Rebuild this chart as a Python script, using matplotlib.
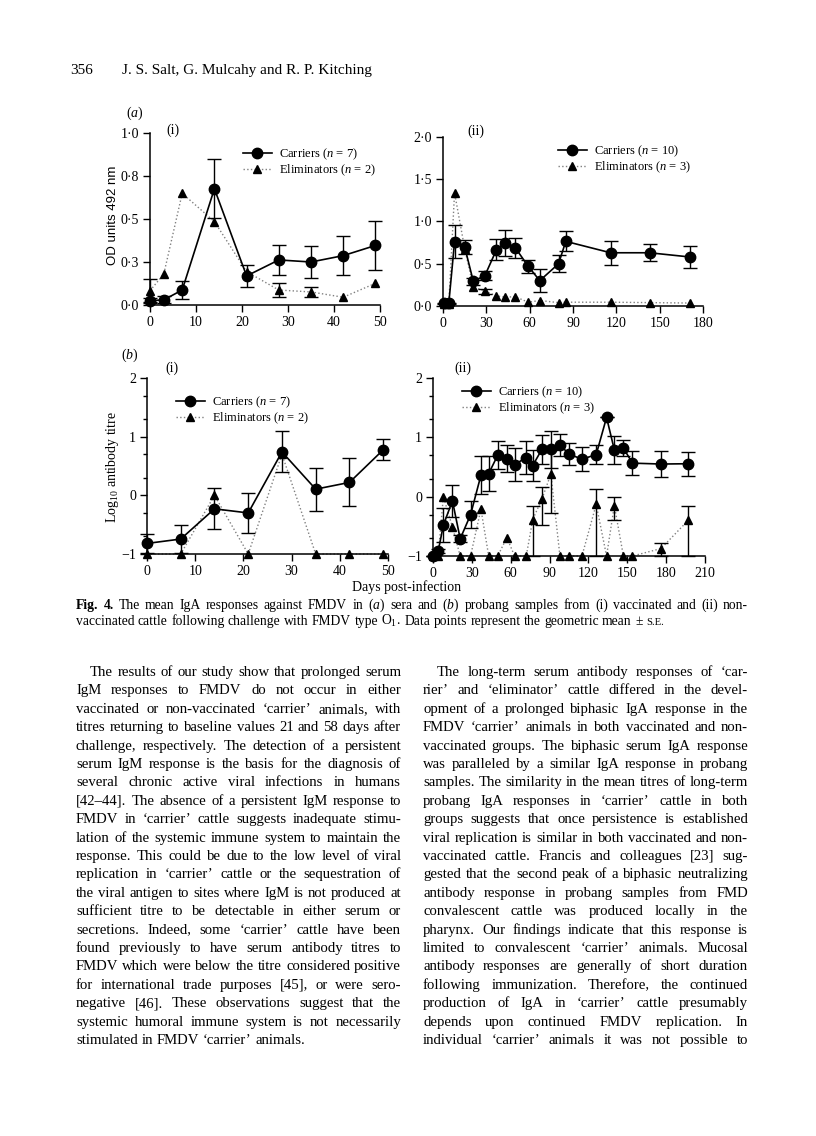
import matplotlib
matplotlib.use("Agg")
import numpy as np
import matplotlib.pyplot as plt
from matplotlib.font_manager import FontProperties
from matplotlib.lines import Line2D

plt.rcParams['font.family'] = ['Liberation Serif', 'DejaVu Serif']
plt.rcParams['mathtext.fontset'] = 'custom'
plt.rcParams['mathtext.rm'] = 'Liberation Serif'
plt.rcParams['mathtext.it'] = 'Liberation Serif:italic'
plt.rcParams['mathtext.bf'] = 'Liberation Serif:bold'

# ---- data ----
# (a)(i) serum IgA, vaccinated
a1_days = [0, 3, 7, 14, 21, 28, 35, 42, 49]
a1_car = [0.025, 0.03, 0.087, 0.676, 0.169, 0.262, 0.25, 0.287, 0.346]
a1_car_se = [0.015, 0.02, 0.05, 0.172, 0.065, 0.089, 0.092, 0.113, 0.145]
a1_elim = [0.083, 0.18, 0.649, 0.485, 0.194, 0.087, 0.076, 0.045, 0.126]
a1_elim_se = [0.067, 0, 0, 0, 0, 0.042, 0.031, 0, 0]

# (a)(ii) serum IgA, non-vaccinated
a2_days = [1, 4, 8, 15, 21, 29, 37, 43, 50, 59, 67, 80, 85, 116, 143, 171]
a2_car = [0.03, 0.03, 0.76, 0.70, 0.29, 0.36, 0.665, 0.745, 0.69, 0.47, 0.30,
          0.50, 0.765, 0.63, 0.63, 0.58]
a2_car_se = [0.01, 0.01, 0.195, 0.085, 0.04, 0.055, 0.125, 0.15, 0.12, 0.08,
             0.14, 0.10, 0.12, 0.14, 0.10, 0.125]
a2_elim = [0.02, 0.02, 1.34, 0.68, 0.225, 0.175, 0.12, 0.105, 0.11, 0.045,
           0.065, 0.04, 0.045, 0.045, 0.04, 0.035]
a2_elim_se = [0, 0, 0, 0, 0, 0.03, 0, 0, 0, 0, 0, 0, 0, 0, 0, 0]

# (b)(i) probang IgA, vaccinated
b1_days = [0, 7, 14, 21, 28, 35, 42, 49]
b1_car = [-0.82, -0.745, -0.23, -0.30, 0.74, 0.105, 0.22, 0.775]
b1_car_se = [0.16, 0.24, 0.35, 0.34, 0.35, 0.365, 0.41, 0.18]
b1_elim = [-1, -1, 0.0, -1, 0.70, -1, -1, -1]

# (b)(ii) probang IgA, non-vaccinated
b2_days = [0, 4, 8, 15, 21, 29, 37, 43, 50, 57, 63, 72, 77, 84, 91, 98, 105,
           115, 126, 134, 140, 147, 154, 176, 197]
b2_car = [-1.0, -0.92, -0.48, -0.07, -0.71, -0.305, 0.36, 0.39, 0.70, 0.64,
          0.54, 0.66, 0.525, 0.795, 0.80, 0.87, 0.72, 0.63, 0.71, 1.335, 0.79,
          0.82, 0.565, 0.55, 0.555]
b2_car_se = [0, 0.03, 0.29, 0.265, 0.06, 0.23, 0.32, 0.29, 0.235, 0.225,
             0.275, 0.28, 0.265, 0.245, 0.31, 0.19, 0.19, 0.205, 0.16, 0,
             0.24, 0.13, 0.205, 0.225, 0.2]
b2_elim = [-1, -1, 0.0, -0.51, -1, -1, -0.21, -1, -1, -0.69, -1, -1, -0.385,
           -0.045, 0.38, -1, -1, -1, -0.13, -1, -0.15, -1, -1, -0.875, -0.4]
b2_elim_lo = [0, 0, 0, 0, 0, 0, 0, 0, 0, 0, 0, 0, 0.615, 0.435, 0.65, 0, 0,
              0, 0.87, 0, 0.24, 0, 0, 0.125, 0.6]
b2_elim_hi = [0, 0, 0, 0, 0, 0, 0, 0, 0, 0, 0, 0, 0.235, 0.215, 0.41, 0, 0,
              0, 0.26, 0, 0.15, 0, 0, 0.095, 0.245]

header_page = "356"
header_authors = "J. S. Salt, G. Mulcahy and R. P. Kitching"

caption_lines = [
    [("Fig.", "bold"), ("4.", "bold"), "The", "mean", "IgA", "responses", "against",
     "FMDV", "in", r"($\it{a}$)", "sera", "and", r"($\it{b}$)", "probang", "samples",
     "from", "(i)", "vaccinated", "and", "(ii)", "non-"],
    ["vaccinated", "cattle", "following", "challenge", "with", "FMDV", "type",
     r"O$_{1}$.", "Data", "points", "represent", "the", "geometric", "mean",
     "\u00b1", ("S.E.", "small")],
]

q1, q2 = "\u2018", "\u2019"
left_col = [
    "The results of our study show that prolonged serum",
    "IgM responses to FMDV do not occur in either",
    f"vaccinated or non-vaccinated {q1}carrier{q2} animals, with",
    "titres returning to baseline values 21 and 58 days after",
    "challenge, respectively. The detection of a persistent",
    "serum IgM response is the basis for the diagnosis of",
    "several chronic active viral infections in humans",
    "[42\u201344]. The absence of a persistent IgM response to",
    f"FMDV in {q1}carrier{q2} cattle suggests inadequate stimu-",
    "lation of the systemic immune system to maintain the",
    "response. This could be due to the low level of viral",
    f"replication in {q1}carrier{q2} cattle or the sequestration of",
    "the viral antigen to sites where IgM is not produced at",
    "sufficient titre to be detectable in either serum or",
    f"secretions. Indeed, some {q1}carrier{q2} cattle have been",
    "found previously to have serum antibody titres to",
    "FMDV which were below the titre considered positive",
    "for international trade purposes [45], or were sero-",
    "negative [46]. These observations suggest that the",
    "systemic humoral immune system is not necessarily",
    f"stimulated in FMDV {q1}carrier{q2} animals.",
]
right_col = [
    f"The long-term serum antibody responses of {q1}car-",
    f"rier{q2} and {q1}eliminator{q2} cattle differed in the devel-",
    "opment of a prolonged biphasic IgA response in the",
    f"FMDV {q1}carrier{q2} animals in both vaccinated and non-",
    "vaccinated groups. The biphasic serum IgA response",
    "was paralleled by a similar IgA response in probang",
    "samples. The similarity in the mean titres of long-term",
    f"probang IgA responses in {q1}carrier{q2} cattle in both",
    "groups suggests that once persistence is established",
    "viral replication is similar in both vaccinated and non-",
    "vaccinated cattle. Francis and colleagues [23] sug-",
    "gested that the second peak of a biphasic neutralizing",
    "antibody response in probang samples from FMD",
    "convalescent cattle was produced locally in the",
    "pharynx. Our findings indicate that this response is",
    f"limited to convalescent {q1}carrier{q2} animals. Mucosal",
    "antibody responses are generally of short duration",
    "following immunization. Therefore, the continued",
    f"production of IgA in {q1}carrier{q2} cattle presumably",
    "depends upon continued FMDV replication. In",
    f"individual {q1}carrier{q2} animals it was not possible to",
]

W, H = 816, 1136
fig = plt.figure(figsize=(W / 100, H / 100), dpi=100)
fig.patch.set_facecolor('white')
renderer = fig.canvas.get_renderer()


def fx(x):
    return x / W


def fy(y):
    return 1 - y / H


def rect(x0, x1, y_top, y_bot):
    return [fx(x0), fy(y_bot), (x1 - x0) / W, (y_bot - y_top) / H]


def draw_panel(box, xlim, xticks, ylim, yticks, yticklabels, days, car, car_se,
               elim, elim_lo, elim_hi, n_car, n_elim, legend_xy, log_minor=False):
    ax = fig.add_axes(box)
    ax.set_xlim(xlim)
    ax.set_ylim(ylim)
    ax.spines['top'].set_visible(False)
    ax.spines['right'].set_visible(False)
    for s in ['left', 'bottom']:
        ax.spines[s].set_linewidth(1.1)
    ax.set_xticks(xticks)
    ax.set_yticks(yticks)
    ax.set_yticklabels(yticklabels)
    ax.tick_params(direction='out', length=5, width=1.0, labelsize=10, pad=3)
    if log_minor:
        minor = []
        for d in range(int(ylim[0]), int(ylim[1])):
            minor += [d + np.log10(2), d + np.log10(5)]
        ax.set_yticks(minor, minor=True)
        ax.tick_params(which='minor', direction='out', length=3, width=1.0)

    # eliminators: dotted grey line with black triangles
    ax.plot(days, elim, ls=':', color='0.5', lw=1.0, zorder=2, clip_on=False)
    idx = [i for i in range(len(days)) if elim_lo[i] > 0 or elim_hi[i] > 0]
    if idx:
        eb = ax.errorbar([days[i] for i in idx], [elim[i] for i in idx],
                         yerr=[[elim_lo[i] for i in idx], [elim_hi[i] for i in idx]],
                         fmt='none', ecolor='black', elinewidth=1.0, capsize=5,
                         capthick=1.0, zorder=3)
        for art in list(eb.lines[1]) + list(eb.lines[2]):
            art.set_clip_on(False)
    ax.plot(days, elim, ls='none', marker='^', ms=6, color='black', zorder=4,
            clip_on=False)

    # carriers: solid line with filled circles
    eb = ax.errorbar(days, car, yerr=car_se, fmt='none', ecolor='black',
                     elinewidth=1.0, capsize=5, capthick=1.0, zorder=3)
    for art in list(eb.lines[1]) + list(eb.lines[2]):
        art.set_clip_on(False)
    ax.plot(days, car, '-', color='black', lw=1.2, marker='o', ms=7.5,
            zorder=5, clip_on=False)

    handles = [Line2D([], [], color='black', lw=1.2, marker='o', ms=7.5),
               Line2D([], [], color='0.5', ls=':', lw=1.0, marker='^', ms=6,
                      mfc='black', mec='black')]
    labels = [r"Carriers ($\it{n}$ = %d)" % n_car,
              r"Eliminators ($\it{n}$ = %d)" % n_elim]
    ax.legend(handles, labels, loc='upper left', frameon=False,
              bbox_to_anchor=(fx(legend_xy[0]), fy(legend_xy[1])),
              bbox_transform=fig.transFigure, borderpad=0, borderaxespad=0,
              handlelength=2.3, handletextpad=0.6, labelspacing=0.0,
              fontsize=9)
    return ax


zeros_b1 = [0] * len(b1_days)

draw_panel(rect(150, 380, 133, 305), (0, 50), [0, 10, 20, 30, 40, 50],
           (0, 1), [0, 0.25, 0.5, 0.75, 1.0],
           ['0\u00b70', '0\u00b73', '0\u00b75', '0\u00b78', '1\u00b70'],
           a1_days, a1_car, a1_car_se, a1_elim, a1_elim_se, a1_elim_se, 7, 2,
           (243, 147))
draw_panel(rect(443, 703, 137, 306), (0, 180), [0, 30, 60, 90, 120, 150, 180],
           (0, 2), [0, 0.5, 1.0, 1.5, 2.0],
           ['0\u00b70', '0\u00b75', '1\u00b70', '1\u00b75', '2\u00b70'],
           a2_days, a2_car, a2_car_se, a2_elim, a2_elim_se, a2_elim_se, 10, 3,
           (558, 144))
draw_panel(rect(147, 388, 378, 554), (0, 50), [0, 10, 20, 30, 40, 50],
           (-1, 2), [-1, 0, 1, 2], ['\u22121', '0', '1', '2'],
           b1_days, b1_car, b1_car_se, b1_elim, zeros_b1, zeros_b1, 7, 2,
           (176, 395), log_minor=True)
draw_panel(rect(433, 705, 378, 556), (0, 210), [0, 30, 60, 90, 120, 150, 180, 210],
           (-1, 2), [-1, 0, 1, 2], ['\u22121', '0', '1', '2'],
           b2_days, b2_car, b2_car_se, b2_elim, b2_elim_lo, b2_elim_hi, 10, 3,
           (462, 385), log_minor=True)

# panel labels and axis titles
fig.text(fx(135), fy(113), r"($\it{a}$)", fontsize=10, ha='center', va='center')
fig.text(fx(173), fy(130), "(i)", fontsize=10, ha='center', va='center')
fig.text(fx(476), fy(131), "(ii)", fontsize=10, ha='center', va='center')
fig.text(fx(130), fy(355), r"($\it{b}$)", fontsize=10, ha='center', va='center')
fig.text(fx(172), fy(368), "(i)", fontsize=10, ha='center', va='center')
fig.text(fx(463), fy(368), "(ii)", fontsize=10, ha='center', va='center')
fig.text(fx(113), fy(215), "OD units 492 nm", family='Liberation Sans',
         fontsize=9.5, rotation=90, ha='center', va='center')
fig.text(fx(112), fy(467), r"Log$_{10}$ antibody titre", fontsize=10,
         rotation=90, ha='center', va='center')
fig.text(fx(407), fy(587), "Days post-infection", fontsize=10,
         ha='center', va='center')


# ---- running text, justified word by word ----
def word_width(s, prop):
    w, _, _ = renderer.get_text_width_height_descent(s, prop, ismath=('$' in s))
    return w


def set_line(tokens, x0, x1, base_y, size, justify=True):
    items = []
    for tok in tokens:
        if isinstance(tok, tuple):
            txt, style = tok
        else:
            txt, style = tok, None
        if style == 'bold':
            prop = FontProperties(family='Liberation Serif', size=size, weight='bold')
        elif style == 'small':
            prop = FontProperties(family='Liberation Serif', size=size * 0.78)
        else:
            prop = FontProperties(family='Liberation Serif', size=size)
        items.append((txt, prop, word_width(txt, prop)))
    total = sum(w for _, _, w in items)
    base_prop = FontProperties(family='Liberation Serif', size=size)
    space = word_width("a a", base_prop) - word_width("aa", base_prop)
    if justify and len(items) > 1:
        gap = (x1 - x0 - total) / (len(items) - 1)
    else:
        gap = space
    x = x0
    for txt, prop, w in items:
        fig.text(fx(x), fy(base_y), txt, fontproperties=prop, ha='left',
                 va='baseline')
        x += w + gap


fig.text(fx(70), fy(74), header_page, fontsize=11, va='baseline')
fig.text(fx(122), fy(74), header_authors, fontsize=11, va='baseline')

cap_x0, cap_x1 = 76, 748
set_line(caption_lines[0], cap_x0, cap_x1, 609, 9.8)
set_line(caption_lines[1], cap_x0, cap_x1, 625, 9.8, justify=False)

body_size = 10.6
line_h = 18.4
first_base = 676
indent = 14
for col_lines, x0, x1 in [(left_col, 76, 401), (right_col, 423, 748)]:
    for i, line in enumerate(col_lines):
        start = x0 + (indent if i == 0 else 0)
        last = (col_lines is left_col and i == len(col_lines) - 1)
        set_line(line.split(), start, x1, first_base + i * line_h, body_size,
                 justify=not last)

fig.savefig("out.png", dpi=100, facecolor='white')
